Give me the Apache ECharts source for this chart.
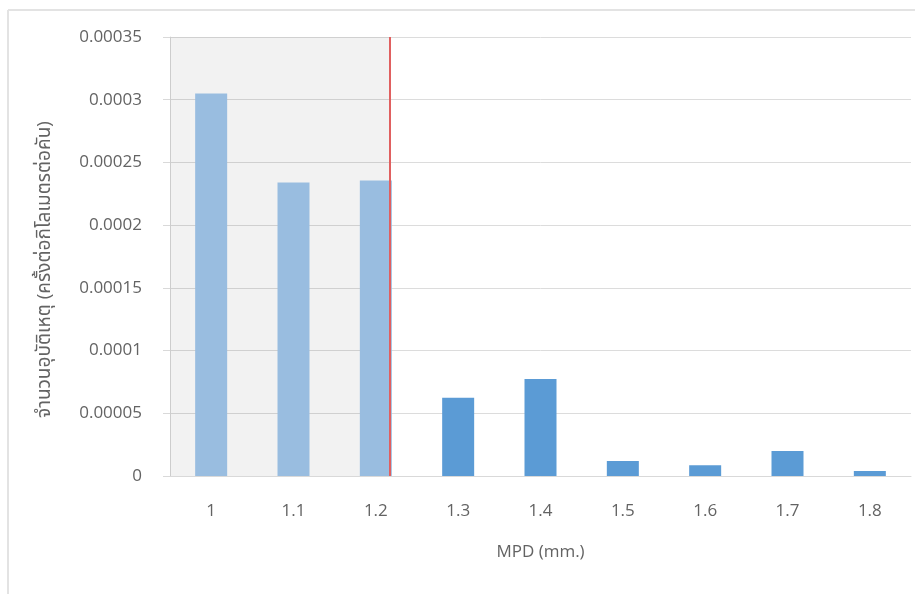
<!DOCTYPE html>
<html>
<head>
<meta charset="utf-8">
<script src="https://cdn.jsdelivr.net/npm/echarts@6/dist/echarts.min.js"></script>
<style>
html,body{margin:0;padding:0;background:#fff;}
#c{width:915px;height:594px;}
</style>
</head>
<body>
<div id="c"></div>
<script>
const categories = ['1', '1.1', '1.2', '1.3', '1.4', '1.5', '1.6', '1.7', '1.8'];
const accidents = [0.000305, 0.000234, 0.0002355, 0.0000624, 0.0000773, 0.000012, 0.0000085, 0.00002, 0.000004];
const highlightedCount = 3;
const thresholdPosition = 2.17;
const yTitle = 'จำนวนอุบัติเหตุ (ครั้งต่อกิโลเมตรต่อคัน)';
const xTitle = 'MPD (mm.)';

const font = '"Open Sans", "Noto Sans", "Noto Sans Thai", sans-serif';
const textColor = '#636363';
const chart = echarts.init(document.getElementById('c'));
chart.setOption({
  animation: false,
  backgroundColor: '#fff',
  graphic: [
    { type: 'line', shape: { x1: 8, y1: 10, x2: 915, y2: 10 }, style: { stroke: '#e3e3e3', lineWidth: 2 } },
    { type: 'line', shape: { x1: 8, y1: 10, x2: 8, y2: 594 }, style: { stroke: '#e3e3e3', lineWidth: 2 } }
  ],
  grid: { left: 170, right: 4, top: 37, height: 439 },
  xAxis: [{
    type: 'category',
    data: categories,
    axisLine: { lineStyle: { color: '#d9d9d9', width: 1 } },
    axisTick: { show: false },
    axisLabel: { color: textColor, fontSize: 17, margin: 27, fontFamily: font },
    name: xTitle,
    nameLocation: 'middle',
    nameGap: 68,
    nameTextStyle: { color: textColor, fontSize: 17, fontFamily: font }
  }, {
    type: 'value',
    min: -0.5,
    max: 8.5,
    show: false
  }],
  yAxis: {
    type: 'value',
    min: 0,
    max: 0.00035,
    interval: 0.00005,
    axisLine: { show: true, onZero: false, lineStyle: { color: '#d9d9d9' } },
    axisTick: { show: true, length: 7, lineStyle: { color: '#d9d9d9' } },
    splitLine: { lineStyle: { color: '#dcdcdc' } },
    axisLabel: {
      color: textColor, fontSize: 17, margin: 28, fontFamily: font,
      formatter: v => String(parseFloat(v.toFixed(6)))
    },
    name: yTitle,
    nameLocation: 'middle',
    nameGap: 116,
    nameRotate: 90,
    nameTextStyle: { color: textColor, fontSize: 19, fontFamily: font, padding: [0, 26, 0, 0] }
  },
  series: [{
    type: 'line',
    xAxisIndex: 1,
    data: [[thresholdPosition, 0]],
    symbol: 'none',
    lineStyle: { opacity: 0 },
    silent: true,
    z: 1,
    markArea: {
      silent: true,
      itemStyle: { color: 'rgba(0,0,0,0.05)' },
      data: [[{ xAxis: -0.5 }, { xAxis: thresholdPosition }]]
    }
  }, {
    type: 'bar',
    data: accidents.map((v, i) => ({
      value: v,
      itemStyle: { color: i < highlightedCount ? '#99bde0' : '#5b9bd5' }
    })),
    barWidth: 32,
    z: 2
  }, {
    type: 'line',
    xAxisIndex: 1,
    data: [[thresholdPosition, 0]],
    symbol: 'none',
    lineStyle: { opacity: 0 },
    silent: true,
    z: 5,
    markLine: {
      silent: true,
      symbol: 'none',
      label: { show: false },
      lineStyle: { color: '#e06060', width: 2, type: 'solid' },
      data: [{ xAxis: thresholdPosition }]
    }
  }]
});
</script>
</body>
</html>
